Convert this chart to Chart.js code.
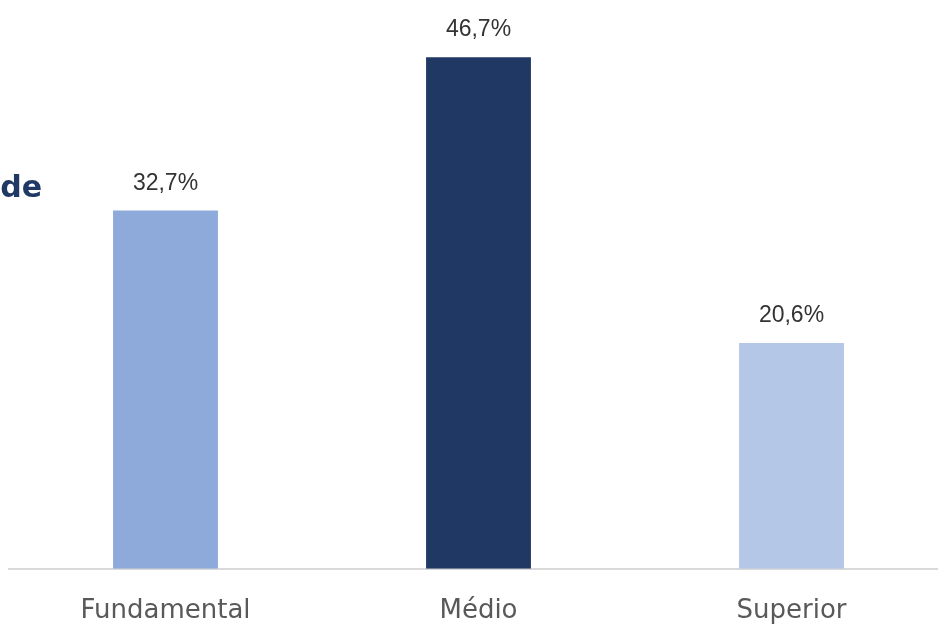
<!DOCTYPE html>
<html>
<head>
<meta charset="utf-8">
<script src="https://cdn.jsdelivr.net/npm/chart.js@4"></script>
<style>
  html, body { margin: 0; padding: 0; background: #fff; overflow: hidden; }
  .wrap { position: relative; width: 938px; height: 624px; overflow: hidden; }
  .box { position: absolute; left: 0; top: 0; width: 950px; height: 656px; }
  .title {
    position: absolute; right: 896px; top: 169px;
    font-family: "DejaVu Sans", sans-serif; font-weight: 700; font-size: 30px;
    color: #203864; white-space: nowrap;
  }
</style>
</head>
<body>
<div class="wrap">
  <div class="box"><canvas id="myChart" width="950" height="656"></canvas></div>
  <div class="title">de</div>
</div>
<script>
  // dados
  const categories = ["Fundamental", "Médio", "Superior"];
  const values = [32.7, 46.7, 20.6];
  const barColors = ["#8eaadb", "#203864", "#b4c7e7"];

  const fmt = (v) => v.toFixed(1).replace(".", ",") + "%";

  // rótulos acima das barras
  const valueLabels = {
    id: "valueLabels",
    afterDatasetsDraw(chart) {
      const ctx = chart.ctx;
      const meta = chart.getDatasetMeta(0);
      ctx.save();
      ctx.font = '23px "Liberation Sans", Arial, sans-serif';
      ctx.fillStyle = "#333333";
      ctx.textAlign = "center";
      ctx.textBaseline = "alphabetic";
      meta.data.forEach((bar, i) => {
        ctx.fillText(fmt(values[i]), bar.x, bar.y - 21);
      });
      ctx.restore();
    },
  };

  const ctx = document.getElementById("myChart");

  new Chart(ctx, {
    type: "bar",
    data: {
      labels: categories,
      datasets: [
        {
          data: values,
          backgroundColor: barColors,
          borderWidth: 0,
          categoryPercentage: 1,
          barPercentage: 0.335,
        },
      ],
    },
    options: {
      responsive: false,
      animation: false,
      layout: {
        padding: { left: 9, right: 2, top: 21, bottom: 2 },
      },
      plugins: {
        legend: { display: false },
        tooltip: { enabled: false },
      },
      scales: {
        x: {
          grid: { display: false, drawTicks: false },
          border: { display: true, color: "#d9d9d9", width: 2 },
          ticks: {
            padding: 27,
            color: "#595959",
            font: { family: '"DejaVu Sans", sans-serif', size: 26 },
          },
        },
        y: {
          display: false,
          min: 0,
          max: 50,
        },
      },
    },
    plugins: [valueLabels],
  });
</script>
</body>
</html>
